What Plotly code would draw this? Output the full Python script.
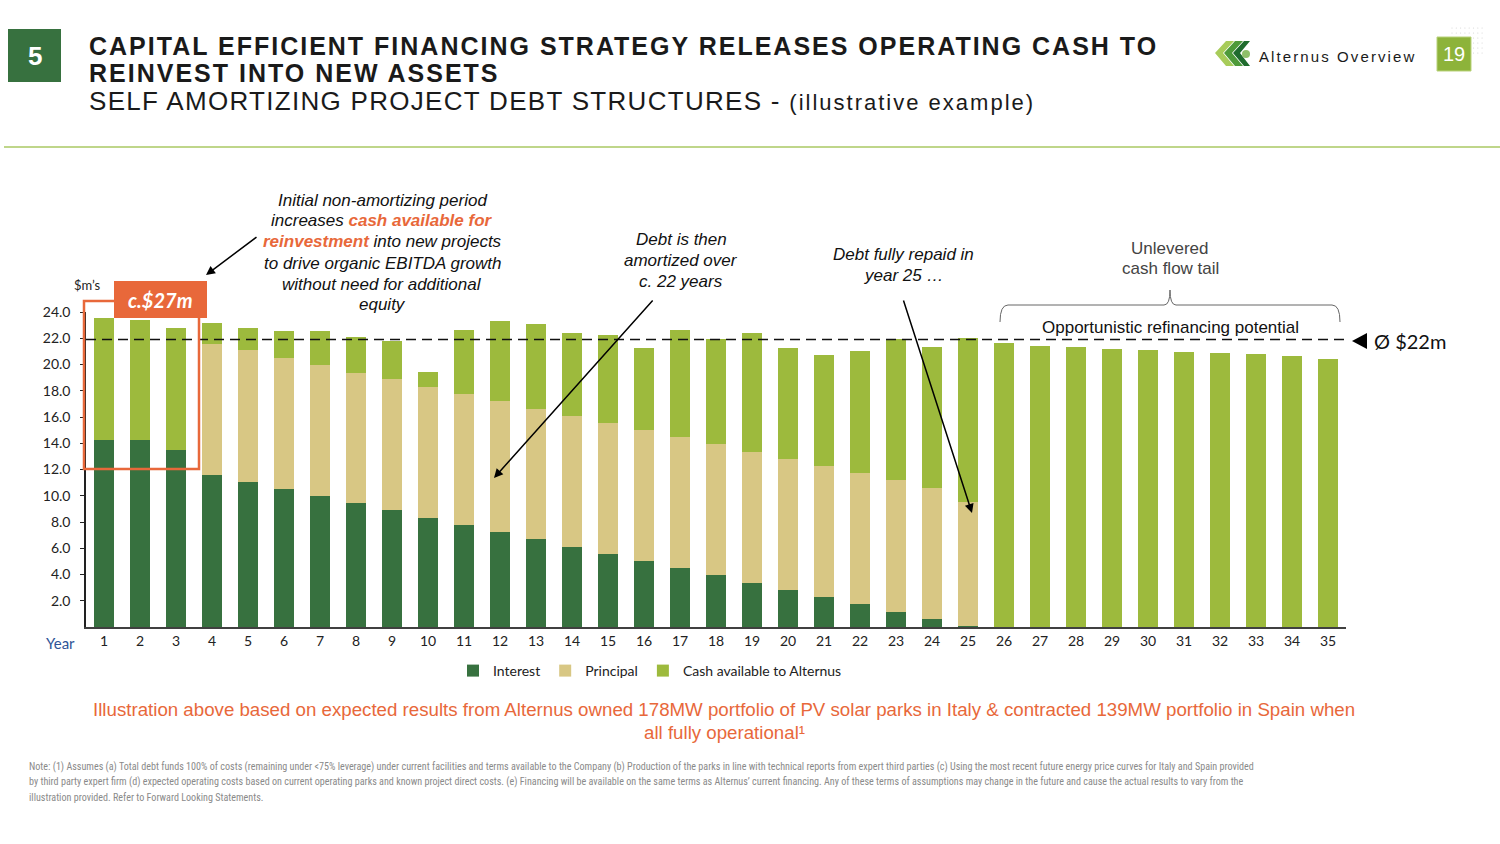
import plotly.graph_objects as go

# ---------------- data ----------------
years = [str(i) for i in range(1, 36)]
interest = [14.28, 14.28, 13.52, 11.60, 11.07, 10.51, 9.98, 9.42, 8.89, 8.33,
            7.77, 7.21, 6.68, 6.11, 5.56, 5.02, 4.46, 3.93, 3.37, 2.81,
            2.25, 1.72, 1.15, 0.60, 0.11, 0.0, 0.0, 0.0, 0.0, 0.0,
            0.0, 0.0, 0.0, 0.0, 0.0]
principal = [0.0, 0.0, 0.0, 10.00, 10.00, 9.99, 9.97, 9.97, 9.97, 9.99,
             10.00, 10.00, 9.96, 10.00, 9.99, 10.00, 10.00, 9.99, 9.97, 9.99,
             10.02, 10.02, 10.03, 9.99, 9.41, 0.0, 0.0, 0.0, 0.0, 0.0,
             0.0, 0.0, 0.0, 0.0, 0.0]
cash = [9.26, 9.13, 9.26, 1.56, 1.73, 2.09, 2.62, 2.70, 2.90, 1.10,
        4.88, 6.10, 6.46, 6.31, 6.69, 6.25, 8.16, 8.06, 9.05, 8.47,
        8.49, 9.28, 10.76, 10.76, 12.52, 21.63, 21.40, 21.30, 21.20, 21.10,
        20.99, 20.89, 20.78, 20.66, 20.43]
average_cash = 21.9
y_ticks = [2, 4, 6, 8, 10, 12, 14, 16, 18, 20, 22, 24]
y_tick_labels = ["2.0", "4.0", "6.0", "8.0", "10.0", "12.0", "14.0", "16.0",
                 "18.0", "20.0", "22.0", "24.0"]

C_INT = "#37713F"
C_PRI = "#D8C784"
C_CASH = "#9DBA3D"
ORANGE = "#E8683A"

# ---------------- layout geometry ----------------
W, H = 1500, 844
L, R, T, B = 86, 1346, 312, 627


def px(x):
    return (x - L) / (R - L)


def py(y):
    return (B - y) / (B - T)


fig = go.Figure()
fig.add_trace(go.Bar(x=years, y=interest, name="Interest", marker_color=C_INT,
                     marker_line_width=0))
fig.add_trace(go.Bar(x=years, y=principal, name="Principal", marker_color=C_PRI,
                     marker_line_width=0))
fig.add_trace(go.Bar(x=years, y=cash, name="Cash available to Alternus",
                     marker_color=C_CASH, marker_line_width=0))

shapes = []
annotations = []


def text(x, y, s, font, xanchor="center", yanchor="middle", align="center"):
    annotations.append(dict(xref="paper", yref="paper", x=px(x), y=py(y),
                            xanchor=xanchor, yanchor=yanchor, align=align,
                            showarrow=False, text=s, font=font))


def block(x, ys, lines, font):
    for yy, s in zip(ys, lines):
        text(x, yy, s, font)


# average dashed line
shapes.append(dict(type="line", xref="paper", yref="y", x0=0, x1=1,
                   y0=average_cash, y1=average_cash,
                   line=dict(color="#111111", width=1.5, dash="10px,6px")))
# triangle marker
shapes.append(dict(type="path", xref="paper", yref="paper",
                   path=f"M{px(1352)},{py(341)} L{px(1367)},{py(333)} L{px(1367)},{py(349)} Z",
                   fillcolor="#000000", line=dict(width=0)))
text(1372, 341, "Ø $22m", dict(family="Lato, Open Sans", size=20, color="#111"), xanchor="left")

# orange highlight box
shapes.append(dict(type="rect", xref="paper", yref="paper",
                   x0=px(84), x1=px(199), y0=py(469), y1=py(301),
                   line=dict(color=ORANGE, width=2.5), fillcolor="rgba(0,0,0,0)"))
shapes.append(dict(type="rect", xref="paper", yref="paper",
                   x0=px(114), x1=px(207), y0=py(318), y1=py(281),
                   line=dict(width=0), fillcolor=ORANGE))
text(160.5, 300, "<b><i>c.$27m</i></b>", dict(family="Lato, Open Sans", size=20, color="white"))

# brace over the tail
bx0, bx1, bmid, btop, bbot, bnotch = 1000, 1340, 1170, 305, 322, 290
brace = (f"M{px(bx0)},{py(bbot)} Q{px(bx0)},{py(btop)} {px(bx0+8)},{py(btop)} "
         f"L{px(bmid-6)},{py(btop)} Q{px(bmid)},{py(btop)} {px(bmid)},{py(bnotch)} "
         f"Q{px(bmid)},{py(btop)} {px(bmid+6)},{py(btop)} "
         f"L{px(bx1-8)},{py(btop)} Q{px(bx1)},{py(btop)} {px(bx1)},{py(bbot)}")
shapes.append(dict(type="path", xref="paper", yref="paper", path=brace,
                   line=dict(color="#666666", width=1)))

# header
shapes.append(dict(type="rect", xref="paper", yref="paper",
                   x0=px(8), x1=px(61), y0=py(82), y1=py(29),
                   fillcolor="#37713F", line=dict(width=0)))
text(34.5, 56, "<b>5</b>", dict(family="Liberation Sans", size=26, color="white"))
hfont = dict(family="Liberation Sans", size=25, color="#1a1a1a")
text(87, 46, "<b><span style='letter-spacing:2px'>CAPITAL EFFICIENT FINANCING STRATEGY RELEASES OPERATING CASH TO</span></b>",
     hfont, xanchor="left")
text(87, 73, "<b><span style='letter-spacing:2px'>REINVEST INTO NEW ASSETS</span></b>", hfont, xanchor="left")
text(87, 101, "<span style='letter-spacing:1.3px'>SELF AMORTIZING PROJECT DEBT STRUCTURES - </span>"
              "<span style='font-size:22px;letter-spacing:2px'>(illustrative example)</span>",
     dict(family="Liberation Sans", size=26, color="#1a1a1a"), xanchor="left")
shapes.append(dict(type="line", xref="paper", yref="paper",
                   x0=px(4), x1=px(1500), y0=py(147), y1=py(147),
                   line=dict(color="#BFD68A", width=2)))

# logo
shapes.append(dict(type="path", xref="paper", yref="paper",
                   path=f"M{px(1215)},{py(53)} L{px(1226)},{py(41)} L{px(1234)},{py(41)} L{px(1223)},{py(53)} L{px(1234)},{py(66)} L{px(1226)},{py(66)} Z",
                   fillcolor="#A8CC5A", line=dict(width=0)))
shapes.append(dict(type="path", xref="paper", yref="paper",
                   path=f"M{px(1224)},{py(53)} L{px(1235)},{py(41)} L{px(1243)},{py(41)} L{px(1232)},{py(53)} L{px(1243)},{py(66)} L{px(1235)},{py(66)} Z",
                   fillcolor="#4E9A3A", line=dict(width=0)))
shapes.append(dict(type="path", xref="paper", yref="paper",
                   path=f"M{px(1233)},{py(53)} L{px(1244)},{py(41)} L{px(1250)},{py(41)} L{px(1240)},{py(53)} L{px(1250)},{py(66)} L{px(1244)},{py(66)} Z",
                   fillcolor="#1F6B2E", line=dict(width=0)))
shapes.append(dict(type="circle", xref="paper", yref="paper",
                   x0=px(1242), x1=px(1250), y0=py(58), y1=py(50),
                   fillcolor="#8FBF6A", line=dict(width=0)))
text(1257, 56, "<span style='letter-spacing:2.1px'>Alternus Overview</span>",
     dict(family="Liberation Sans", size=15, color="#1a1a1a"), xanchor="left")
# dotted grid
for r_i in range(6):
    for c_i in range(8):
        cx = 1452 + c_i * 4.3
        cy = 28 + r_i * 5
        shapes.append(dict(type="circle", xref="paper", yref="paper",
                           x0=px(cx - 0.6), x1=px(cx + 0.6), y0=py(cy + 0.6), y1=py(cy - 0.6),
                           fillcolor="#D4D4D4", line=dict(width=0)))
shapes.append(dict(type="rect", xref="paper", yref="paper",
                   x0=px(1437), x1=px(1471), y0=py(71), y1=py(37),
                   fillcolor="#8DB33A", line=dict(color="#B9D27A", width=1)))
text(1454, 54, "19", dict(family="Liberation Sans", size=20, color="white"))

# annotation texts
ital = dict(family="Liberation Sans", size=17, color="#111111")
ob = "<b><span style='color:%s'>%%s</span></b>" % ORANGE
block(382, [201, 221, 242, 263, 284, 304],
      ["<i>Initial non-amortizing period</i>",
       "<i>increases " + (ob % "cash available for") + "</i>",
       "<i>" + (ob % "reinvestment") + " into new projects</i>",
       "<i>to drive organic EBITDA growth</i>",
       "<i>without need for additional</i>",
       "<i>equity</i>"], ital)
block(681, [240, 260, 281], ["<i>Debt is then</i>", "<i>amortized over</i>", "<i>c. 22 years</i>"], ital)
block(903, [254, 275], ["<i>Debt fully repaid in</i>", "<i>year 25 …</i>"], ital)
block(1170, [248, 268], ["Unlevered", "cash flow tail"],
      dict(family="Liberation Sans", size=17, color="#444444"))
text(1170, 327, "Opportunistic refinancing potential",
     dict(family="Liberation Sans", size=17, color="#111111"))

# arrows
for (hx, hy, tx, ty) in [(206, 275, 258, 236), (494, 478, 654, 299), (972, 513, 903, 299)]:
    annotations.append(dict(xref="paper", yref="paper", x=px(hx), y=py(hy),
                            ax=tx - hx, ay=ty - hy, showarrow=True, text="",
                            arrowhead=2, arrowsize=1.2, arrowwidth=1.5, arrowcolor="#000000"))

# axis labels
text(87, 285, "$m’s", dict(family="Lato, Open Sans", size=13, color="#222222"))
text(60, 643, "Year", dict(family="Lato, Open Sans", size=15, color="#2F5597"))

# footer
ofont = dict(family="Liberation Sans", size=18.7, color=ORANGE)
text(724, 709, "Illustration above based on expected results from Alternus owned 178MW portfolio of PV solar parks in Italy &amp; contracted 139MW portfolio in Spain when", ofont)
text(724, 732, "all fully operational¹", ofont)
nfont = dict(family="Liberation Sans Narrow, Roboto Condensed, Liberation Sans", size=10.1, color="#8a8a8a")
text(27, 767, "Note: (1) Assumes (a) Total debt funds 100% of costs (remaining under &lt;75% leverage) under current facilities and terms available to the Company (b) Production of the parks in line with technical reports from expert third parties (c) Using the most recent future energy price curves for Italy and Spain provided",
     nfont, xanchor="left")
text(27, 782, "by third party expert firm (d) expected operating costs based on current operating parks and known project direct costs. (e) Financing will be available on the same terms as Alternus’ current financing. Any of these terms of assumptions may change in the future and cause the actual results to vary from the",
     nfont, xanchor="left")
text(27, 797, "illustration provided. Refer to Forward Looking Statements.", nfont, xanchor="left")

fig.update_layout(
    width=W, height=H,
    margin=dict(l=L, r=W - R, t=T, b=H - B, autoexpand=False),
    barmode="stack", bargap=0.44,
    plot_bgcolor="white", paper_bgcolor="white",
    showlegend=True,
    legend=dict(orientation="h", x=px(453), xanchor="left", y=py(671), yanchor="middle",
                font=dict(family="Lato, Open Sans", size=14, color="#222222"),
                traceorder="normal", itemwidth=30, bgcolor="rgba(0,0,0,0)"),
    xaxis=dict(type="category", showgrid=False, zeroline=False,
               showline=True, linecolor="#404040", linewidth=2,
               ticks="", tickfont=dict(family="Lato, Open Sans", size=14, color="#222222")),
    yaxis=dict(range=[0, 24], tickvals=y_ticks, ticktext=y_tick_labels,
               showgrid=False, zeroline=False, showline=True, linecolor="#222222",
               linewidth=1.5, ticks="outside", ticklen=4, tickcolor="#222222",
               ticklabelstandoff=7,
               tickfont=dict(family="Lato, Open Sans", size=14, color="#222222")),
    shapes=shapes, annotations=annotations,
)

fig.write_html("out.html", config={"displayModeBar": False},
               post_script="document.body.style.margin='0';")
